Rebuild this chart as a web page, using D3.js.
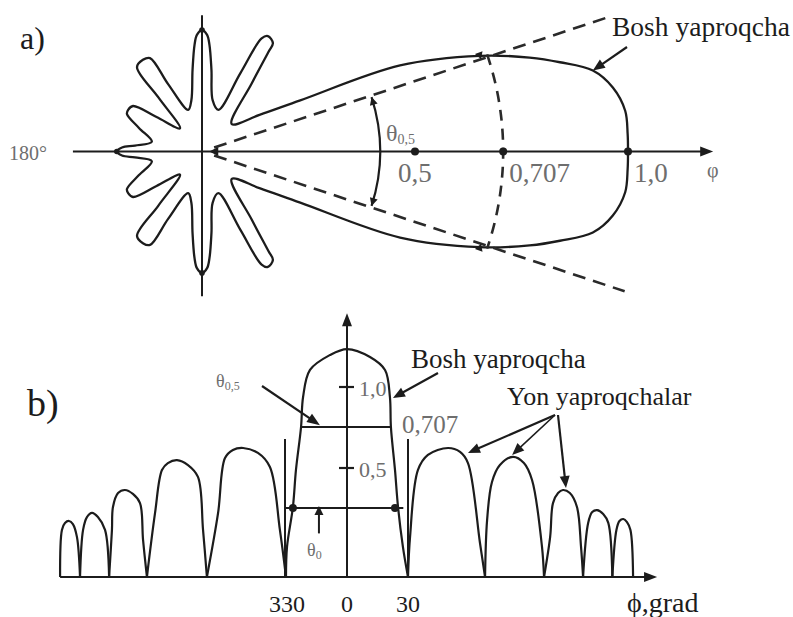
<!DOCTYPE html>
<html><head><meta charset="utf-8">
<script src="https://cdn.jsdelivr.net/npm/d3@7"></script>
<style>
body{margin:0;background:#fff}
svg{display:block}
</style>
</head><body>
<svg id="c" width="793" height="617"></svg>
<script>
// ================= DATA =================
// a) polar pattern, upper half (angle in degrees, normalised radius); lower half mirrors it
const polarAngles = [0,2.4,5.5,8.85,11.7,14,16,19,23.5,27.5,32.5,42.8,
  53.9,56.3,56.8,60.3,62.2,63.9,68.6,
  78.3,83.4,86,87.5,90,92.5,94,96.6,101.7,108.3,
  116.7,119.1,122.8,127.6,128.9,133.5,
  142.8,146.6,150.6,153.4,159.5,169,
  174.9,177.1,180];
const polarRadii = [1.0,1.0,0.998,0.976,0.937,0.866,0.80,0.69,0.507,0.26,0.16,0.095,
  0.199,0.281,0.304,0.312,0.30,0.205,0.105,
  0.123,0.193,0.251,0.274,0.285,0.274,0.251,0.193,0.123,0.103,
  0.177,0.251,0.256,0.25,0.163,0.075,
  0.134,0.194,0.199,0.197,0.158,0.12,
  0.158,0.188,0.2];
const polarTicks = [0.5, 0.707, 1.0];
const polarTickLabels = ["0,5", "0,707", "1,0"];
const halfPowerAngle = 18.3;     // dashed boundary lines (deg)
const halfPowerArc = 0.418;      // θ0,5 arc radius
const halfPowerArcAngle = 17.8;

// b) rectangular pattern: angle (deg) vs level
const leftSideLobes = [
  [[-141.1,0],[-140.2,0.216],[-138.7,0.248],[-136.7,0.257],[-134.8,0.243],[-132.8,0.183],[-131.3,0]],
  [[-131.3,0],[-129.8,0.216],[-127.9,0.275],[-125.4,0.294],[-122.5,0.275],[-119,0.216],[-117,0]],
  [[-117,0],[-115.6,0.216],[-115.1,0.321],[-112.6,0.385],[-109.2,0.399],[-105.3,0.381],[-101.8,0.339],[-100.3,0.170],[-98.4,0]],
  [[-98.4,0],[-94.4,0.294],[-91,0.491],[-88.1,0.525],[-83.6,0.54],[-78.2,0.515],[-73.3,0.459],[-70.8,0.216],[-68.9,0]],
  [[-68.9,0],[-63.4,0.294],[-60,0.55],[-56.1,0.591],[-51.1,0.601],[-43.8,0.576],[-37.9,0.505],[-33,0.216],[-30,0]]
];
const mainLobe = [[-30,0],[-29.5,0.138],[-26.6,0.321],[-25.1,0.491],[-22.6,0.707],[-21.6,0.927],[-18.2,1.125],
  [-8.4,1.234],[0,1.278],[11.3,1.22],[18.7,1.125],[21.1,0.927],[21.6,0.707],[23.6,0.491],[25.1,0.321],[27.5,0.138],[30,0]];
const rightSideLobes = [
  [[30,0],[31,0.183],[34.9,0.491],[39.8,0.566],[49.7,0.601],[55.6,0.581],[59.5,0.525],[65.4,0.156],[67.9,0]],
  [[67.9,0],[68.9,0.261],[71.3,0.436],[75.2,0.515],[81.6,0.556],[87,0.525],[91,0.445],[95.9,0.138],[96.9,0]],
  [[96.9,0],[99.9,0.183],[101.3,0.339],[103.8,0.385],[106.2,0.399],[109.6,0.385],[113.1,0.321],[115.1,0.138],[116.1,0]],
  [[116.1,0],[118.6,0.248],[120.6,0.298],[123,0.307],[126,0.289],[128.5,0.248],[130.5,0]],
  [[130.5,0],[132.5,0.216],[134,0.257],[135.9,0.266],[137.7,0.252],[139.4,0.216],[140.7,0]]
];
const xTickAngles = [-30, 0, 30];
const xTickLabels = ["330", "0", "30"];
const yTickValues = [0.5, 1.0];
const yTickLabels = ["0,5", "1,0"];
const halfPowerLevel = 0.707;
const zeroWidthLevel = 0.317;

// ================= DRAW =================
const FONT = "Liberation Serif";
const svg = d3.select("#c");
const ink = "#1c1c1c", grey = "#6e6e6e";
const rad = d => d * Math.PI / 180;

function head(g, x1, y1, x2, y2, len, hw) {
  const dx = x2 - x1, dy = y2 - y1, L = Math.hypot(dx, dy), ux = dx / L, uy = dy / L;
  const bx = x2 - ux * len, by = y2 - uy * len;
  g.append("path").attr("d", `M${x2},${y2}L${bx - uy * hw},${by + ux * hw}L${bx + uy * hw},${by - ux * hw}Z`).attr("fill", ink);
}
function arrow(g, x1, y1, x2, y2, len = 11, hw = 4.5, sw = 2) {
  const dx = x2 - x1, dy = y2 - y1, L = Math.hypot(dx, dy);
  g.append("line").attr("x1", x1).attr("y1", y1).attr("x2", x2 - dx / L * len * 0.8).attr("y2", y2 - dy / L * len * 0.8)
    .attr("stroke", ink).attr("stroke-width", sw);
  head(g, x1, y1, x2, y2, len, hw);
}
function txt(g, x, y, s, size, color, anchor = "start") {
  return g.append("text").attr("x", x).attr("y", y).attr("font-family", FONT).attr("font-size", size)
    .attr("fill", color).attr("text-anchor", anchor).text(s);
}

// ---------- a) ----------
const ga = svg.append("g");
const cx = 202, cy = 151.5;
const r = d3.scaleLinear().domain([0, 1]).range([0, 426]);
const P = (a, v) => [cx + r(v) * Math.cos(rad(a)), cy - r(v) * Math.sin(rad(a))];

// axes
const ax0 = P(180, 0.303), ax1 = P(0, 1.2);
ga.append("line").attr("x1", ax0[0]).attr("y1", ax0[1]).attr("x2", ax1[0] - 8).attr("y2", ax1[1]).attr("stroke", ink).attr("stroke-width", 2);
head(ga, ax0[0], ax0[1], ax1[0], ax1[1], 13, 5);
const ay0 = P(90, 0.32), ay1 = P(-90, 0.34);
ga.append("line").attr("x1", ay0[0]).attr("y1", ay0[1]).attr("x2", ay1[0]).attr("y2", ay1[1]).attr("stroke", ink).attr("stroke-width", 2);

// pattern
const upper = polarAngles.map((a, i) => [a, polarRadii[i]]);
const full = upper.concat(upper.slice(1, -1).reverse().map(([a, v]) => [-a, v]));
ga.append("path").attr("d", d3.line().curve(d3.curveCatmullRomClosed.alpha(0.5))(full.map(d => P(d[0], d[1]))))
  .attr("fill", "none").attr("stroke", ink).attr("stroke-width", 2.3);

// dashed half-power lines and arc
[[halfPowerAngle, 1.015], [-halfPowerAngle, 1.045]].forEach(([a, len]) => {
  const p0 = P(a, 0.03), p1 = P(a, len);
  ga.append("line").attr("x1", p0[0]).attr("y1", p0[1]).attr("x2", p1[0]).attr("y2", p1[1])
    .attr("stroke", "#2a2a2a").attr("stroke-width", 2.6).attr("stroke-dasharray", "13,8");
});
const arcP = d3.path();
arcP.arc(cx, cy, r(0.707), rad(-halfPowerAngle - 0.5), rad(halfPowerAngle + 0.5));
ga.append("path").attr("d", arcP.toString()).attr("fill", "none").attr("stroke", "#2a2a2a").attr("stroke-width", 2.6).attr("stroke-dasharray", "11,8");

// θ0,5 arc with end arrows
const arc2 = d3.path();
arc2.arc(cx, cy, r(halfPowerArc), rad(-halfPowerArcAngle), rad(halfPowerArcAngle));
ga.append("path").attr("d", arc2.toString()).attr("fill", "none").attr("stroke", ink).attr("stroke-width", 2.2);
[1, -1].forEach(s => {
  const tip = P(s * halfPowerArcAngle, halfPowerArc), pre = P(s * (halfPowerArcAngle - 3), halfPowerArc);
  head(ga, pre[0], pre[1], tip[0], tip[1], 8, 4);
});

// markers where dashed lines cross the lobe
[1, -1].forEach(s => {
  const p = P(s * halfPowerAngle, 0.69), q = P(s * (halfPowerAngle + 2.5), 0.69);
  head(ga, q[0], q[1], p[0], p[1], 7, 4);
});

// dots
polarTicks.forEach((t, i) => {
  const p = P(0, t);
  ga.append("circle").attr("cx", p[0]).attr("cy", p[1]).attr("r", 4).attr("fill", ink);
  txt(ga, p[0] + (i === 0 ? -17 : 6), 182, polarTickLabels[i], 27, grey);
});
[[90, 0.285], [-90, 0.285], [180, 0.2]].forEach(([a, v]) => {
  const p = P(a, v);
  ga.append("circle").attr("cx", p[0]).attr("cy", p[1]).attr("r", 2.8).attr("fill", ink);
});
{ const p = P(0, 0.01), q = P(0, 0.03); head(ga, q[0], q[1], p[0] + 3, p[1], 9, 4.5); }

// labels a)
txt(ga, 20, 49, "a)", 32, ink);
txt(ga, 9, 160, "180°", 20, grey);
txt(ga, 707, 177, "φ", 20, grey);
{ const t = txt(ga, 386, 141, "θ", 24, grey); t.append("tspan").attr("font-size", 14).attr("dy", 3).text("0,5"); }
txt(ga, 612, 36, "Bosh yaproqcha", 27.5, ink);
{ const p = P(11.7, 0.937); arrow(ga, 627, 47, p[0], p[1], 12, 5, 2.2); }

// ---------- b) ----------
const gb = svg.append("g");
const x = d3.scaleLinear().domain([-30, 30]).range([286, 408]);
const y = d3.scaleLinear().domain([0, 0.5, 0.707, 1]).range([577, 468, 427, 387]);
const lineB = d3.line().x(d => x(d[0])).y(d => y(d[1])).curve(d3.curveCatmullRom.alpha(0.5));

// axes
gb.append("line").attr("x1", x(-141.1)).attr("y1", y(0)).attr("x2", x(152) - 8).attr("y2", y(0)).attr("stroke", ink).attr("stroke-width", 2);
head(gb, x(-141.1), y(0), x(152.5), y(0), 13, 5);
gb.append("line").attr("x1", x(0)).attr("y1", y(0)).attr("x2", x(0)).attr("y2", y(1.54) + 8).attr("stroke", ink).attr("stroke-width", 2);
head(gb, x(0), y(0), x(0), y(1.54), 13, 5);

// lobes
leftSideLobes.concat([mainLobe], rightSideLobes).forEach(l => {
  gb.append("path").attr("d", lineB(l)).attr("fill", "none").attr("stroke", ink).attr("stroke-width", 2.2);
});

// vertical marker lines at ±30
[-30, 30].forEach(a => {
  gb.append("line").attr("x1", x(a) - (a < 0 ? 1 : 0)).attr("x2", x(a) - (a < 0 ? 1 : 0)).attr("y1", y(0)).attr("y2", y(0.646))
    .attr("stroke", ink).attr("stroke-width", 2);
});
// 0.707 level line
gb.append("line").attr("x1", x(-22.6)).attr("x2", x(21.6)).attr("y1", y(halfPowerLevel)).attr("y2", y(halfPowerLevel)).attr("stroke", ink).attr("stroke-width", 2);
// θ0 line and dots
gb.append("line").attr("x1", x(-30)).attr("x2", x(27.7)).attr("y1", y(zeroWidthLevel)).attr("y2", y(zeroWidthLevel)).attr("stroke", ink).attr("stroke-width", 2);
[-26.6, 23.6].forEach(a => gb.append("circle").attr("cx", x(a)).attr("cy", y(zeroWidthLevel)).attr("r", 4).attr("fill", ink));
// y ticks
yTickValues.forEach((v, i) => {
  gb.append("line").attr("x1", x(0) - 8).attr("x2", x(0) + 7).attr("y1", y(v)).attr("y2", y(v)).attr("stroke", ink).attr("stroke-width", 2.2);
  txt(gb, x(0) + 12, y(v) + 9, yTickLabels[i], 22, grey);
});
// x tick labels
xTickAngles.forEach((a, i) => txt(gb, x(a) + (a < 0 ? 1 : 0), 612, xTickLabels[i], 24, ink, "middle"));

// annotations b)
txt(gb, 27, 416, "b)", 38, ink);
txt(gb, 627, 612, "ϕ,grad", 28, ink);
txt(gb, 402, 433, "0,707", 25, grey);
{ const t = txt(gb, 216, 387, "θ", 18, grey); t.append("tspan").attr("font-size", 12).attr("dy", 3).text("0,5"); }
arrow(gb, 262, 386, x(-13.3), y(0.72), 13, 5, 2.2);
{ const t = txt(gb, 307, 556, "θ", 18, grey); t.append("tspan").attr("font-size", 12).attr("dy", 3).text("0"); }
arrow(gb, x(-13.8), y(0.2), x(-13.8), y(zeroWidthLevel) - 2, 9, 4.5, 2);
txt(gb, 411, 368, "Bosh yaproqcha", 27, ink);
arrow(gb, 438, 373, x(22.6), y(0.92), 12, 5, 2.2);
txt(gb, 507, 405, "Yon yaproqchalar", 26, ink);
arrow(gb, 555, 415, x(59.5), y(0.576), 12, 5, 2.2);
arrow(gb, 555, 415, x(81.2), y(0.566), 12, 5, 1.6);
arrow(gb, 558, 415, x(107.7), y(0.408), 12, 5, 2.2);
</script>
</body></html>
